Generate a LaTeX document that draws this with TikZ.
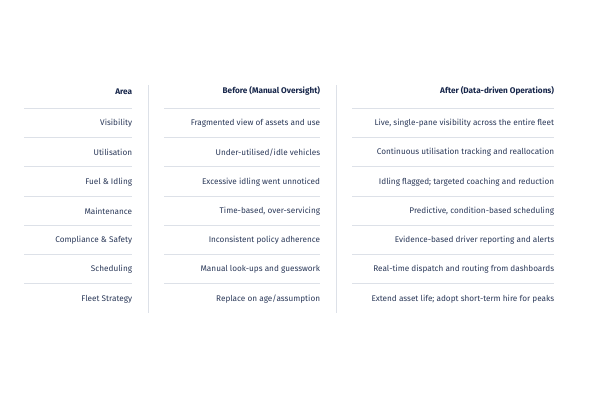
\documentclass[tikz,border=0pt]{standalone}
\usepackage{fontspec}
\setmainfont{Fira Sans}
\definecolor{txt}{HTML}{2A3858}
\definecolor{hdr}{HTML}{17264A}
\definecolor{rule}{HTML}{DDE1E8}
\begin{document}
\begin{tikzpicture}[x=1pt,y=-1pt,
  cell/.style={anchor=east,inner sep=0pt,font=\fontsize{8.2}{9.5}\selectfont,text=txt},
  head/.style={anchor=east,inner sep=0pt,font=\fontsize{8.2}{9.5}\selectfont\bfseries,text=hdr},
  hrule/.style={draw=rule,line width=0.9pt},
  vrule/.style={draw=rule,line width=0.9pt}]
\useasboundingbox (0,0) rectangle (600,400);
% column dividers
\coordinate (d1t) at (148.3,85); \coordinate (d1b) at (148.3,313);
\coordinate (d2t) at (336.7,85); \coordinate (d2b) at (336.7,313);
\draw[vrule] (d1t) -- (d1b);
\draw[vrule] (d2t) -- (d2b);
% horizontal rules
\foreach \i/\y in {1/108.3,2/137.5,3/166.8,4/196,5/225.2,6/254.4,7/283.4}{
  \coordinate (a\i l) at (24,\y); \coordinate (a\i r) at (132.3,\y);
  \coordinate (b\i l) at (164.3,\y); \coordinate (b\i r) at (320.3,\y);
  \coordinate (c\i l) at (352.3,\y); \coordinate (c\i r) at (554.3,\y);
  \draw[hrule] (a\i l) -- (a\i r);
  \draw[hrule] (b\i l) -- (b\i r);
  \draw[hrule] (c\i l) -- (c\i r);
}
% headers
\node[head] (h1) at (132.3,91.3) {Area};
\node[head] (h2) at (320.3,91.3) {Before (Manual Oversight)};
\node[head] (h3) at (554.3,91.3) {After (Data-driven Operations)};
% rows
\foreach \i/\y/\a/\b/\c in {
 1/123.3/Visibility/Fragmented view of assets and use/{Live, single-pane visibility across the entire fleet},
 2/152.5/Utilisation/Under-utilised\slash idle vehicles/Continuous utilisation tracking and reallocation,
 3/181.7/Fuel \& Idling/Excessive idling went unnoticed/Idling flagged; targeted coaching and reduction,
 4/211/Maintenance/{Time-based, over-servicing}/{Predictive, condition-based scheduling},
 5/240.3/Compliance \& Safety/Inconsistent policy adherence/Evidence-based driver reporting and alerts,
 6/269.6/Scheduling/Manual look-ups and guesswork/Real-time dispatch and routing from dashboards,
 7/299/Fleet Strategy/Replace on age\slash assumption/Extend asset life; adopt short-term hire for peaks}{
  \node[cell] (ra\i) at (132.3,\y) {\a};
  \node[cell] (rb\i) at (320.3,\y) {\b};
  \node[cell] (rc\i) at (554.3,\y) {\c};
}
\end{tikzpicture}
\end{document}
